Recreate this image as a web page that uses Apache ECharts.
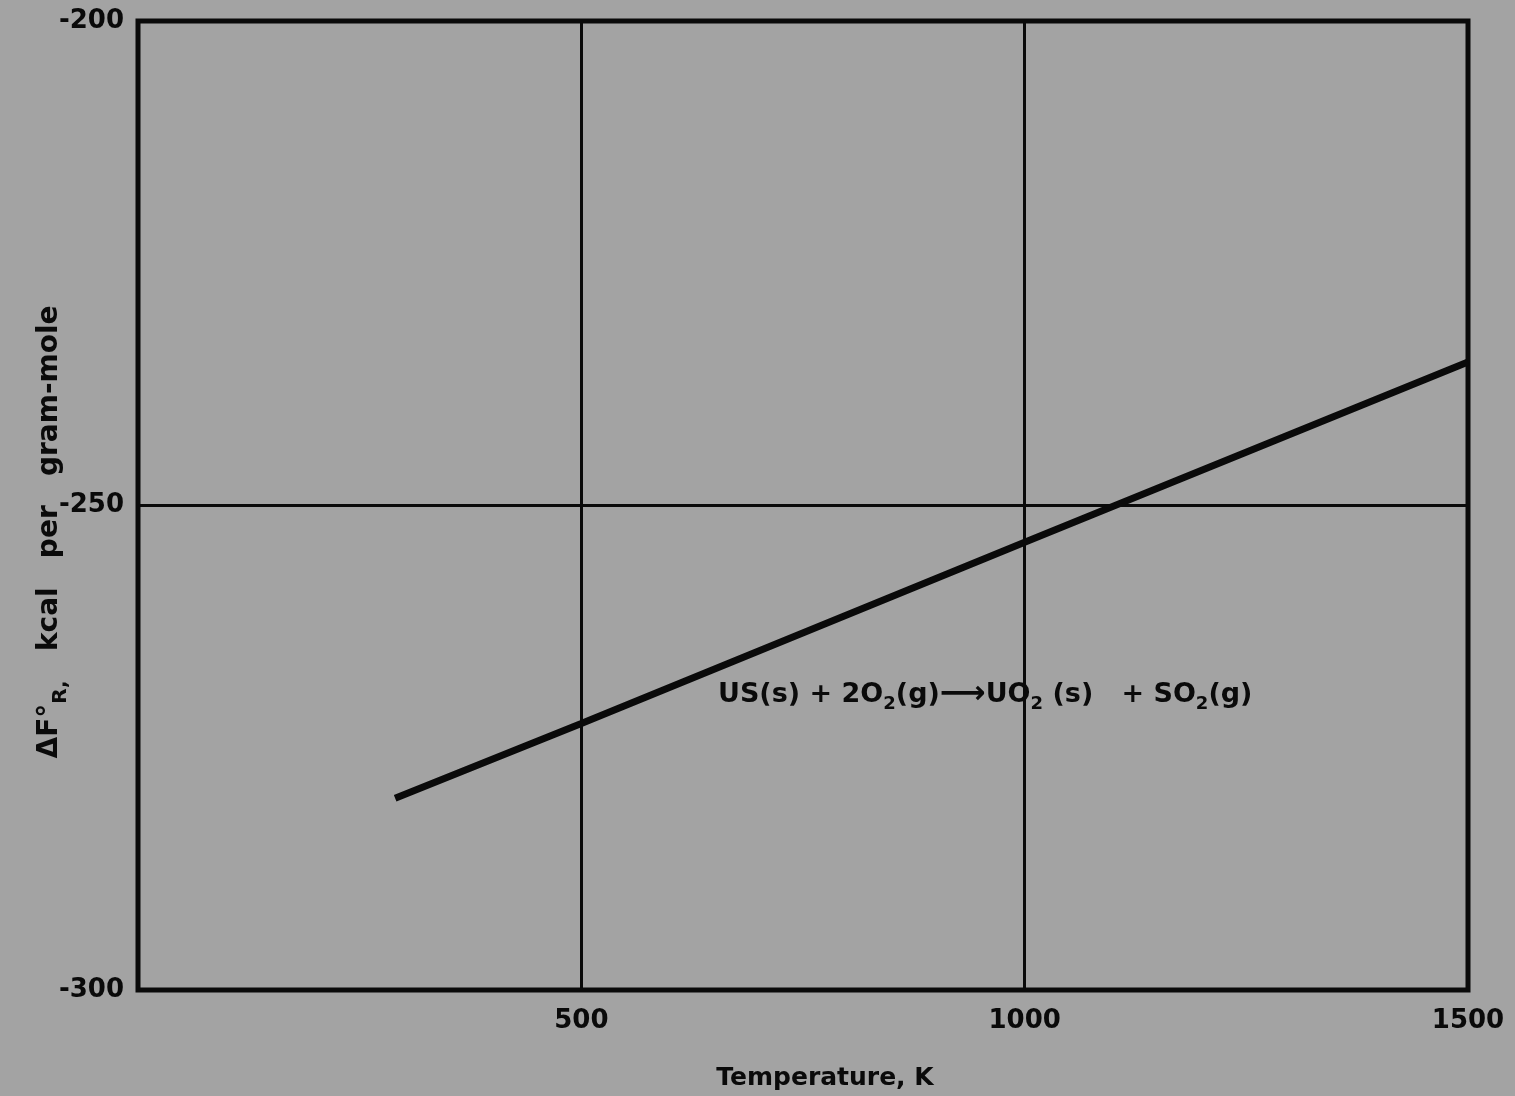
<!DOCTYPE html>
<html>
<head>
<meta charset="utf-8">
<script src="https://cdn.jsdelivr.net/npm/echarts@6/dist/echarts.min.js"></script>
<style>
html,body{margin:0;padding:0;background:#a3a3a3;}
#c{width:1515px;height:1096px;}
</style>
</head>
<body>
<div id="c"></div>
<script>
// Data
const temperatureK = [290, 500, 1000, 1500];
const deltaF = [-280.2, -272.5, -253.8, -235.2];
const xTicks = [500, 1000, 1500];
const yTicks = [-300, -250, -200];

const chart = echarts.init(document.getElementById('c'));
const F = 'DejaVu Sans';
const seriesData = temperatureK.map((t, i) => [t, deltaF[i]]);

chart.setOption({
  backgroundColor: '#a3a3a3',
  animation: false,
  grid: { left: 138, right: 47, top: 21, bottom: 106, show: true, borderColor: '#0a0a0a', borderWidth: 5, backgroundColor: 'transparent' },
  xAxis: {
    type: 'value', min: 0, max: 1500, interval: 500,
    name: 'Temperature, K', nameLocation: 'middle', nameGap: 76,
    nameTextStyle: { fontFamily: F, fontWeight: 'bold', fontSize: 25, color: '#0a0a0a', padding: [0, 0, 0, 44] },
    axisLine: { show: false }, axisTick: { show: false },
    axisLabel: { margin: 18, fontFamily: F, fontWeight: 'bold', fontSize: 26, color: '#0a0a0a',
      formatter: v => xTicks.includes(v) ? String(v) : '' },
    splitLine: { show: true, lineStyle: { color: '#0a0a0a', width: 3 } }
  },
  yAxis: {
    type: 'value', min: -300, max: -200, interval: 50,
    axisLine: { show: false }, axisTick: { show: false },
    axisLabel: { margin: 14, fontFamily: F, fontWeight: 'bold', fontSize: 26, color: '#0a0a0a',
      formatter: v => yTicks.includes(v) ? String(v) : '' },
    splitLine: { show: true, lineStyle: { color: '#0a0a0a', width: 3 } }
  },
  series: [{
    type: 'line', data: seriesData, symbol: 'none',
    lineStyle: { color: '#0a0a0a', width: 7 }
  }],
  graphic: [
    {
      type: 'text', x: 50, y: 532, rotation: Math.PI / 2, originX: 0, originY: 0,
      style: {
        text: '{m|ΔF°}{s|R,}{m|   kcal   per   gram-mole}',
        align: 'center', verticalAlign: 'middle',
        rich: {
          m: { fontFamily: F, fontWeight: 'bold', fontSize: 28, fill: '#0a0a0a' },
          s: { fontFamily: F, fontWeight: 'bold', fontSize: 20, fill: '#0a0a0a', padding: [22, 0, 0, 0] }
        }
      }
    },
    {
      type: 'text', x: 718, y: 695,
      style: {
        text: '{m|US(s) + 2O}{s|2}{m|(g)}{a|⟶}{m|UO}{s|2}{m| (s)   + SO}{s|2}{m|(g)}',
        align: 'left', verticalAlign: 'middle',
        rich: {
          m: { fontFamily: F, fontWeight: 'bold', fontSize: 27, fill: '#0a0a0a' },
          s: { fontFamily: F, fontWeight: 'bold', fontSize: 18, fill: '#0a0a0a', padding: [18, 0, 0, 0] },
          a: { fontFamily: F, fontWeight: 'bold', fontSize: 32, fill: '#0a0a0a' }
        }
      }
    }
  ]
});
</script>
</body>
</html>
